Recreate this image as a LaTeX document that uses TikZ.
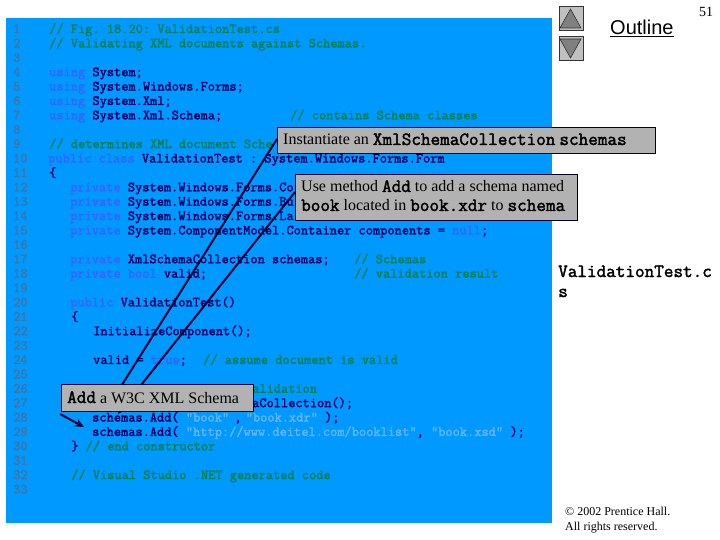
\documentclass[tikz,border=0pt]{standalone}
\usepackage{fontspec}
\setmainfont{Liberation Serif}
\newfontfamily\sansout{Liberation Sans}
\newfontfamily\codefont[FakeBold=2]{Latin Modern Mono}
\usetikzlibrary{arrows.meta}
\definecolor{panelblue}{HTML}{0099FF}
\definecolor{kwcol}{HTML}{3366FF}
\definecolor{cmcol}{HTML}{008050}
\definecolor{txcol}{HTML}{000066}
\definecolor{stcol}{HTML}{66B3FF}
\definecolor{lncol}{HTML}{3F75A0}
\definecolor{boxfill}{HTML}{B2B2B2}
\definecolor{navfill}{HTML}{C0C0C0}
\definecolor{navtri}{HTML}{808080}
\definecolor{edge}{HTML}{000033}
\newcommand\kwd[1]{\textcolor{kwcol}{#1}}
\newcommand\cmt[1]{\textcolor{cmcol}{#1}}
\newcommand\strg[1]{\textcolor{stcol}{#1}}
\newcommand\cb[1]{{\codefont\fontsize{18.65}{20}\selectfont\frenchspacing\spaceskip 9.6pt\relax #1}}
\newcommand\codesize{\codefont\fontsize{14}{15}\selectfont\frenchspacing\spaceskip 7.2pt\relax}
\newcommand\codeat[4]{\pgfmathsetmacro\yy{33+14.39*(#3-1)}\node[codetext] (#1) at (#2,\yy) {#4};}
\newcommand\lnum[1]{\pgfmathsetmacro\yy{33+14.39*(#1-1)}\node[codetext,text=lncol] (n#1) at (13,\yy) {#1};}
\tikzset{
  codetext/.style={anchor=base west,inner sep=0pt,text=txcol,font=\codesize},
  callout/.style={draw=edge,line width=0.8pt,fill=boxfill,anchor=north west,inner sep=0pt},
  calltext/.style={anchor=base west,inner sep=0pt,font=\fontsize{16}{20}\selectfont},
  leader/.style={draw=edge,line width=2pt,-{Stealth[length=9pt,width=8pt]}},
  navbtn/.style={draw=black!80,line width=0.7pt,fill=navfill,minimum size=24pt,inner sep=0pt,anchor=north west},
  navarrow/.style={draw=black!80,line width=0.6pt,fill=navtri}
}
\begin{document}
\begin{tikzpicture}[x=1pt,y=-1pt]
\useasboundingbox (0,0) rectangle (720,540);
\fill[panelblue] (6,18) rectangle (552,523);
\foreach \n in {1,...,33}{\lnum{\n}}
\codeat{c1}{49}{1}{\cmt{// Fig. 18.20: ValidationTest.cs}}
\codeat{c2}{49}{2}{\cmt{// Validating XML documents against Schemas.}}
\codeat{c4}{49}{4}{\kwd{using} System;}
\codeat{c5}{49}{5}{\kwd{using} System.Windows.Forms;}
\codeat{c6}{49}{6}{\kwd{using} System.Xml;}
\codeat{c7}{49}{7}{\kwd{using} System.Xml.Schema;}
\codeat{c7b}{290}{7}{\cmt{// contains Schema classes}}
\codeat{c9}{49}{9}{\cmt{// determines XML document Sche}}
\codeat{c10}{48}{10}{\kwd{public class} ValidationTest : System.Windows.Forms.Form}
\codeat{c11}{49}{11}{\{}
\codeat{c12}{70}{12}{\kwd{private} System.Windows.Forms.Co}
\codeat{c13}{70}{13}{\kwd{private} System.Windows.Forms.Bu}
\codeat{c14}{70}{14}{\kwd{private} System.Windows.Forms.La}
\codeat{c15}{70}{15}{\kwd{private} System.ComponentModel.Container components = \kwd{null};}
\codeat{c17}{70}{17}{\kwd{private} XmlSchemaCollection schemas;}
\codeat{c17b}{354}{17}{\cmt{// Schemas}}
\codeat{c18}{70}{18}{\kwd{private bool} valid;}
\codeat{c18b}{354}{18}{\cmt{// validation result}}
\codeat{c20}{70}{20}{\kwd{public} ValidationTest()}
\codeat{c21}{71}{21}{\{}
\codeat{c22}{93}{22}{InitializeComponent();}
\codeat{c24}{93}{24}{valid = \kwd{true};}
\codeat{c24b}{203}{24}{\cmt{// assume document is valid}}
\codeat{c26}{252}{26}{\cmt{alidation}}
\codeat{c27}{252}{27}{aCollection();}
\codeat{c28}{92}{28}{schemas.Add( \strg{"book"}\hspace{-2pt} ,\hspace{-3pt} \strg{"book.xdr"} );}
\codeat{c29}{92}{29}{schemas.Add( \strg{"http://www.deitel.com/booklist"}, \strg{"book.xsd"} );}
\codeat{c30}{71}{30}{\} \cmt{// end constructor}}
\codeat{c32}{71}{32}{\cmt{// Visual Studio .NET generated code}}
\coordinate (tipa) at (108,407);
\coordinate (tipb) at (118,414);
\coordinate (tipc) at (84,427);
\coordinate (srcc) at (60,414);
\coordinate (srca) at (277,139);
\coordinate (srcb) at (295,192);
\draw[leader] (srca) -- (tipa);
\draw[leader] (srcb) -- (tipb);
\draw[leader] (srcc) -- (tipc);
\node[callout,minimum width=378pt,minimum height=26.5pt] (boxa) at (276.5,127) {};
\node[calltext] (ta) at (283,145) {Instantiate an \cb{XmlSchemaCollection} \cb{schemas}};
\node[callout,minimum width=282pt,minimum height=45.5pt] (boxb) at (294.5,174.5) {};
\node[calltext] (tb1) at (301,192) {Use method \cb{Add} to add a schema named};
\node[calltext] (tb2) at (301,211) {\cb{book} located in \cb{book.xdr} to \cb{schema}};
\node[callout,minimum width=192pt,minimum height=27pt] (boxc) at (60.5,384) {};
\node[calltext] (tc) at (67,403) {\cb{Add} a W3C XML Schema};
\node[navbtn] (up) at (558.5,6.5) {};
\node[navbtn] (down) at (558.5,36.5) {};
\draw[navarrow] (570.5,9) -- (581,28) -- (560,28) -- cycle;
\draw[navarrow] (570.5,58) -- (581,39) -- (560,39) -- cycle;
\node[anchor=base west,inner sep=0pt,font=\sansout\fontsize{20}{24}\selectfont] (outl) at (610,35) {\underline{Outline}};
\node[anchor=base west,inner sep=0pt,font=\fontsize{14}{16}\selectfont] (pg) at (699,17) {51};
\node[anchor=base west,inner sep=0pt,font=\codefont\fontsize{18.65}{20}\selectfont] (fa) at (558,277) {ValidationTest.c};
\node[anchor=base west,inner sep=0pt,font=\codefont\fontsize{18.65}{20}\selectfont] (fb) at (558,297) {s};
\node[anchor=base west,inner sep=0pt,font=\fontsize{12}{14}\selectfont] (cr1) at (565,515) {© 2002 Prentice Hall.};
\node[anchor=base west,inner sep=0pt,font=\fontsize{12}{14}\selectfont] (cr2) at (565,530) {All rights reserved.};
\end{tikzpicture}
\end{document}
